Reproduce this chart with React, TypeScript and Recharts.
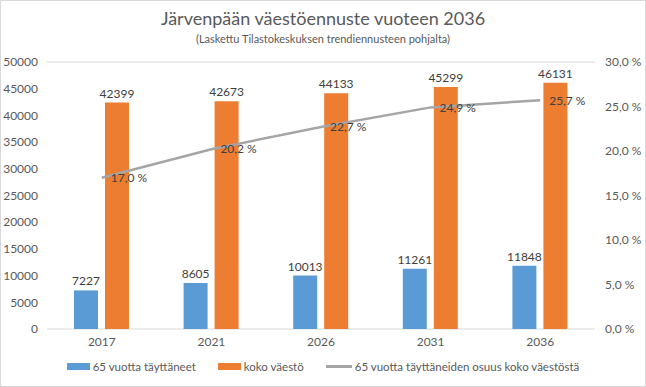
import { Bar, CartesianGrid, ComposedChart, LabelList, Line, XAxis, YAxis } from "recharts";

const YEARS = ["2017", "2021", "2026", "2031", "2036"];
const AGED_65 = [7227, 8605, 10013, 11261, 11848];
const TOTAL = [42399, 42673, 44133, 45299, 46131];
const SHARE = [17.0, 20.2, 22.7, 24.9, 25.7];
const LEFT_TICKS = [0, 5000, 10000, 15000, 20000, 25000, 30000, 35000, 40000, 45000, 50000];
const RIGHT_TICKS = [0, 5, 10, 15, 20, 25, 30];

const BLUE = "#5b9bd5";
const ORANGE = "#ed7d31";
const GREY = "#a5a5a5";
const TEXT = "#595959";
const LABEL = "#404040";
const FONT = "Lato, 'Open Sans', sans-serif";

const data = YEARS.map((year, i) => ({
  year,
  aged: AGED_65[i],
  total: TOTAL[i],
  share: SHARE[i],
}));

/** 25.7 -> "25,7 %" */
const pct = (v: number) => `${v.toFixed(1).replace(".", ",")} %`;

function LegendItem({ color, line, label }: { color: string; line?: boolean; label: string }) {
  return (
    <div style={{ display: "flex", alignItems: "center", gap: 3 }}>
      <div style={{ width: line ? 26 : 23, height: line ? 3 : 7, background: color }} />
      <span>{label}</span>
    </div>
  );
}

export default function App() {
  const tick = { fill: TEXT, fontSize: 12, fontFamily: FONT };
  return (
    <div
      style={{
        position: "absolute",
        left: 0,
        top: 0,
        width: 644,
        height: 385,
        border: "1px solid #d9d9d9",
        background: "#fff",
        fontFamily: FONT,
        color: TEXT,
      }}
    >
      <div style={{ position: "absolute", top: 6, width: "100%", textAlign: "center", fontSize: 18 }}>
        Järvenpään väestöennuste vuoteen 2036
      </div>
      <div style={{ position: "absolute", top: 31, width: "100%", textAlign: "center", fontSize: 11 }}>
        (Laskettu Tilastokeskuksen trendiennusteen pohjalta)
      </div>
      <ComposedChart
        width={644}
        height={385}
        data={data}
        margin={{ top: 61, right: 0, left: 0, bottom: 32 }}
        barSize={24}
        barGap={7}
      >
        <CartesianGrid stroke="#d9d9d9" vertical={false} />
        <XAxis
          dataKey="year"
          tick={tick}
          axisLine={false}
          tickLine={false}
          tickSize={0}
          tickMargin={8}
          height={25}
        />
        <YAxis
          yAxisId="left"
          domain={[0, 50000]}
          ticks={LEFT_TICKS}
          tick={tick}
          axisLine={false}
          tickLine={false}
          tickSize={0}
          tickMargin={9}
          width={46}
          interval={0}
        />
        <YAxis
          yAxisId="right"
          orientation="right"
          domain={[0, 30]}
          ticks={RIGHT_TICKS}
          tickFormatter={pct}
          tick={tick}
          axisLine={false}
          tickLine={false}
          tickSize={0}
          tickMargin={10}
          width={50}
          interval={0}
        />
        <Bar yAxisId="left" dataKey="aged" fill={BLUE} isAnimationActive={false}>
          <LabelList dataKey="aged" position="top" offset={5} fill={LABEL} fontSize={12} fontFamily={FONT} />
        </Bar>
        <Bar yAxisId="left" dataKey="total" fill={ORANGE} isAnimationActive={false}>
          <LabelList dataKey="total" position="top" offset={5} fill={LABEL} fontSize={12} fontFamily={FONT} />
        </Bar>
        <Line
          yAxisId="right"
          dataKey="share"
          stroke={GREY}
          strokeWidth={2.5}
          dot={false}
          isAnimationActive={false}
        >
          <LabelList
            dataKey="share"
            position="right"
            offset={9}
            formatter={(v: any) => pct(Number(v))}
            fill={LABEL}
            fontSize={12}
            fontFamily={FONT}
          />
        </Line>
      </ComposedChart>
      <div
        style={{
          position: "absolute",
          top: 359,
          width: "100%",
          display: "flex",
          justifyContent: "center",
          gap: 22,
          fontSize: 11.5,
        }}
      >
        <LegendItem color={BLUE} label="65 vuotta täyttäneet" />
        <LegendItem color={ORANGE} label="koko väestö" />
        <LegendItem color={GREY} line label="65 vuotta täyttäneiden osuus koko väestöstä" />
      </div>
    </div>
  );
}
